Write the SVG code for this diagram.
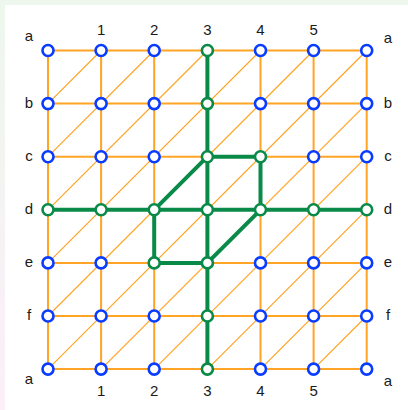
<svg xmlns="http://www.w3.org/2000/svg" width="408" height="410" viewBox="0 0 408 410">
<defs>
<linearGradient id="bg" x1="0" y1="0" x2="0" y2="1">
<stop offset="0" stop-color="#eef7ee"/>
<stop offset="1" stop-color="#fbeff8"/>
</linearGradient>
<style>
.grid{stroke:#ffa424;stroke-width:2;fill:none}
.diag{stroke:#ffa424;stroke-width:1.2;fill:none}
.path{stroke:#0a8a48;stroke-width:4;fill:none;stroke-linejoin:round}
.n circle{fill:#fff;stroke:#0a3cff;stroke-width:2.6}
.g circle{fill:#fff;stroke:#0a8a48;stroke-width:2.6}
text{font-family:"Liberation Sans",Arial,sans-serif;font-size:15px;fill:#1a1a1a;text-anchor:middle}
</style>
</defs>
<rect width="408" height="410" fill="url(#bg)"/>
<rect x="5" y="5" width="403" height="405" fill="#fff"/>
<g id="connectors">
<path class="grid" d="M48 50.5H366.7M48 103.6H366.7M48 156.7H366.7M48 209.8H366.7M48 262.9H366.7M48 316H366.7M48 369.1H366.7M48 50.5V369.1M101.1 50.5V369.1M154.2 50.5V369.1M207.4 50.5V369.1M260.5 50.5V369.1M313.6 50.5V369.1M366.7 50.5V369.1"/>
<path class="diag" d="M48 103.6L101.1 50.5M48 156.7L154.2 50.5M48 209.8L207.4 50.5M48 262.9L260.5 50.5M48 316L313.6 50.5M48 369.1L366.7 50.5M101.1 369.1L366.7 103.6M154.2 369.1L366.7 156.7M207.4 369.1L366.7 209.8M260.5 369.1L366.7 262.9M313.6 369.1L366.7 316"/>
<path class="path" d="M207.4 50.5V369.1M48 209.8H366.7M207.4 156.7H260.5V209.8M154.2 209.8L207.4 156.7M154.2 209.8V262.9H207.4L260.5 209.8"/>
</g>
<g id="a0" class="n"><circle cx="48" cy="50.5" r="5.5"/></g>
<g id="a1" class="n"><circle cx="101.1" cy="50.5" r="5.5"/></g>
<g id="a2" class="n"><circle cx="154.2" cy="50.5" r="5.5"/></g>
<g id="a3" class="g"><circle cx="207.4" cy="50.5" r="5.5"/></g>
<g id="a4" class="n"><circle cx="260.5" cy="50.5" r="5.5"/></g>
<g id="a5" class="n"><circle cx="313.6" cy="50.5" r="5.5"/></g>
<g id="a6" class="n"><circle cx="366.7" cy="50.5" r="5.5"/></g>
<g id="b0" class="n"><circle cx="48" cy="103.6" r="5.5"/></g>
<g id="b1" class="n"><circle cx="101.1" cy="103.6" r="5.5"/></g>
<g id="b2" class="n"><circle cx="154.2" cy="103.6" r="5.5"/></g>
<g id="b3" class="g"><circle cx="207.4" cy="103.6" r="5.5"/></g>
<g id="b4" class="n"><circle cx="260.5" cy="103.6" r="5.5"/></g>
<g id="b5" class="n"><circle cx="313.6" cy="103.6" r="5.5"/></g>
<g id="b6" class="n"><circle cx="366.7" cy="103.6" r="5.5"/></g>
<g id="c0" class="n"><circle cx="48" cy="156.7" r="5.5"/></g>
<g id="c1" class="n"><circle cx="101.1" cy="156.7" r="5.5"/></g>
<g id="c2" class="n"><circle cx="154.2" cy="156.7" r="5.5"/></g>
<g id="c3" class="g"><circle cx="207.4" cy="156.7" r="5.5"/></g>
<g id="c4" class="g"><circle cx="260.5" cy="156.7" r="5.5"/></g>
<g id="c5" class="n"><circle cx="313.6" cy="156.7" r="5.5"/></g>
<g id="c6" class="n"><circle cx="366.7" cy="156.7" r="5.5"/></g>
<g id="d0" class="g"><circle cx="48" cy="209.8" r="5.5"/></g>
<g id="d1" class="g"><circle cx="101.1" cy="209.8" r="5.5"/></g>
<g id="d2" class="g"><circle cx="154.2" cy="209.8" r="5.5"/></g>
<g id="d3" class="g"><circle cx="207.4" cy="209.8" r="5.5"/></g>
<g id="d4" class="g"><circle cx="260.5" cy="209.8" r="5.5"/></g>
<g id="d5" class="g"><circle cx="313.6" cy="209.8" r="5.5"/></g>
<g id="d6" class="g"><circle cx="366.7" cy="209.8" r="5.5"/></g>
<g id="e0" class="n"><circle cx="48" cy="262.9" r="5.5"/></g>
<g id="e1" class="n"><circle cx="101.1" cy="262.9" r="5.5"/></g>
<g id="e2" class="g"><circle cx="154.2" cy="262.9" r="5.5"/></g>
<g id="e3" class="g"><circle cx="207.4" cy="262.9" r="5.5"/></g>
<g id="e4" class="n"><circle cx="260.5" cy="262.9" r="5.5"/></g>
<g id="e5" class="n"><circle cx="313.6" cy="262.9" r="5.5"/></g>
<g id="e6" class="n"><circle cx="366.7" cy="262.9" r="5.5"/></g>
<g id="f0" class="n"><circle cx="48" cy="316" r="5.5"/></g>
<g id="f1" class="n"><circle cx="101.1" cy="316" r="5.5"/></g>
<g id="f2" class="n"><circle cx="154.2" cy="316" r="5.5"/></g>
<g id="f3" class="g"><circle cx="207.4" cy="316" r="5.5"/></g>
<g id="f4" class="n"><circle cx="260.5" cy="316" r="5.5"/></g>
<g id="f5" class="n"><circle cx="313.6" cy="316" r="5.5"/></g>
<g id="f6" class="n"><circle cx="366.7" cy="316" r="5.5"/></g>
<g id="z0" class="n"><circle cx="48" cy="369.1" r="5.5"/></g>
<g id="z1" class="n"><circle cx="101.1" cy="369.1" r="5.5"/></g>
<g id="z2" class="n"><circle cx="154.2" cy="369.1" r="5.5"/></g>
<g id="z3" class="g"><circle cx="207.4" cy="369.1" r="5.5"/></g>
<g id="z4" class="n"><circle cx="260.5" cy="369.1" r="5.5"/></g>
<g id="z5" class="n"><circle cx="313.6" cy="369.1" r="5.5"/></g>
<g id="z6" class="n"><circle cx="366.7" cy="369.1" r="5.5"/></g>
<g id="labels">
<text x="101.1" y="35">1</text>
<text x="154.2" y="35">2</text>
<text x="207.4" y="35">3</text>
<text x="260.5" y="35">4</text>
<text x="313.6" y="35">5</text>
<text x="101.1" y="396">1</text>
<text x="154.2" y="396">2</text>
<text x="207.4" y="396">3</text>
<text x="260.5" y="396">4</text>
<text x="313.6" y="396">5</text>
<text x="29" y="41">a</text>
<text x="29" y="108">b</text>
<text x="29" y="161">c</text>
<text x="29" y="214">d</text>
<text x="29" y="267">e</text>
<text x="29" y="320">f</text>
<text x="29" y="384">a</text>
<text x="388" y="42.5">a</text>
<text x="388" y="108">b</text>
<text x="388" y="161">c</text>
<text x="388" y="214">d</text>
<text x="388" y="267">e</text>
<text x="388" y="320">f</text>
<text x="388" y="386">a</text>
</g>
</svg>
